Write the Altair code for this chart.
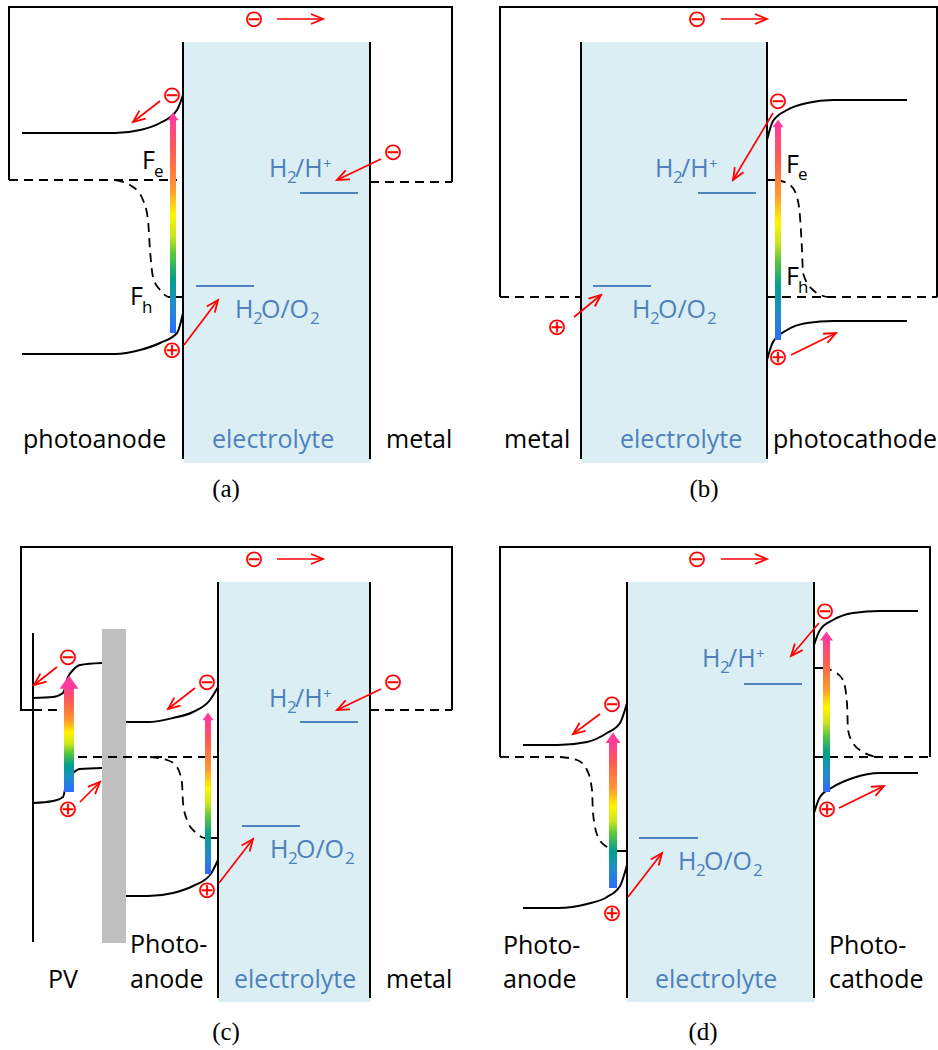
import altair as alt
import pandas as pd

W, H = 938, 1050

# ---------------- diagram geometry (pixel units) ----------------
ELECTROLYTE = [(184, 42, 371, 463), (581, 42, 768, 463), (218, 582, 371, 1002), (627, 582, 815, 1002)]
SPACER = [(102, 629, 126, 943)]

SOLID_STRAIGHT = [
    # (a)
    [(9, 180), (9, 7), (452, 7), (452, 182)],
    [(183, 42), (183, 459)], [(370, 42), (370, 459)],
    [(168, 297), (183, 297)],
    # (b)
    [(500, 297), (500, 7), (937, 7), (937, 297)],
    [(581, 42), (581, 459)], [(767, 42), (767, 459)],
    [(767, 180), (777, 180)],
    # (c)
    [(33, 710), (21, 710), (21, 547), (452, 547), (452, 710)],
    [(33, 633), (33, 942)],
    [(218, 582), (218, 998)], [(370, 582), (370, 998)],
    [(204, 838), (218, 838)],
    # (d)
    [(500, 757), (500, 547), (930, 547), (930, 757)],
    [(627, 582), (627, 998)], [(814, 582), (814, 998)],
    [(617, 851), (627, 851)], [(814, 668), (823, 668)],
]

SOLID_CURVES = [
    # (a) photoanode bands
    [(22, 133), (115, 133), (140, 130), (160, 123), (177, 110), (183, 95)],
    [(22, 354), (115, 354), (140, 350), (160, 343), (177, 333), (183, 313)],
    # (b) photocathode bands
    [(767, 140), (773, 121), (787, 110), (807, 103), (833, 100), (907, 100)],
    [(767, 360), (773, 342), (787, 330), (807, 323), (833, 321), (907, 321)],
    # (c) PV bands
    [(33, 698), (53, 697), (63, 693), (68, 677), (73, 670), (80, 665), (102, 663)],
    [(33, 803), (53, 801), (63, 797), (67, 780), (73, 773), (80, 769), (102, 768)],
    # (c) photoanode bands
    [(126, 722), (148, 722), (173, 718), (193, 712), (210, 700), (218, 687)],
    [(126, 896), (148, 896), (173, 893), (193, 886), (210, 875), (218, 860)],
    # (d) photoanode bands
    [(523, 745), (558, 745), (587, 742), (607, 733), (620, 723), (627, 703)],
    [(523, 908), (558, 908), (587, 904), (607, 897), (620, 886), (627, 865)],
    # (d) photocathode bands
    [(814, 645), (820, 630), (833, 620), (853, 613), (880, 611), (918, 611)],
    [(814, 813), (820, 797), (833, 787), (853, 778), (880, 773), (918, 773)],
]

DASHED_STRAIGHT = [
    [(9, 180), (177, 180)], [(370, 182), (452, 182)],
    [(500, 297), (581, 297)], [(767, 297), (937, 297)],
    [(33, 710), (57, 710)], [(78, 757), (218, 757)], [(370, 710), (452, 710)],
    [(500, 757), (560, 757)], [(814, 757), (930, 757)],
]

DASHED_CURVES = [
    [(115, 180), (133, 187), (143, 200), (148, 220), (150, 250), (153, 277), (160, 290), (168, 297)],
    [(777, 180), (790, 185), (797, 197), (800, 217), (802, 250), (803, 273), (813, 290), (827, 297)],
    [(150, 757), (167, 760), (177, 767), (182, 783), (183, 803), (187, 820), (195, 832), (204, 838)],
    [(560, 757), (577, 760), (587, 770), (592, 790), (593, 813), (598, 837), (607, 847), (617, 851)],
    [(823, 668), (835, 672), (843, 680), (847, 703), (848, 730), (853, 743), (863, 752), (877, 757)],
]

REDOX_LEVELS = [
    (300, 358, 193), (196, 254, 286),
    (698, 756, 193), (593, 651, 286),
    (300, 358, 722), (242, 300, 826),
    (744, 802, 684), (639, 698, 838),
]

RED_ARROWS = [
    (277, 19, 323, 19), (160, 101, 133, 122), (184, 345, 218, 300), (381, 159, 337, 180),
    (721, 19, 767, 19), (773, 113, 733, 180), (574, 317, 601, 295), (791, 355, 836, 333),
    (277, 559, 323, 559), (57, 667, 34, 685), (80, 802, 100, 782), (195, 688, 168, 709),
    (219, 883, 253, 839), (381, 689, 337, 710),
    (721, 559, 767, 559), (600, 714, 573, 734), (628, 897, 662, 853), (819, 623, 791, 656),
    (839, 808, 884, 786),
]

# left, right, bottom, top, head half width
RAINBOWS = [
    (170, 176, 333, 118, 5.5),
    (775, 781, 340, 125, 5.5),
    (205, 211, 874, 718, 5.5),
    (64, 74, 792, 685, 9.5),
    (609, 617, 888, 740, 7.5),
    (823, 830, 792, 638, 6.5),
]

CHARGES = [
    (254, 20, "⊖"), (172, 96, "⊖"), (172, 351, "⊕"), (393, 153, "⊖"),
    (697, 20, "⊖"), (778, 102, "⊖"), (778, 358, "⊕"), (557, 328, "⊕"),
    (254, 560, "⊖"), (68, 658, "⊖"), (68, 810, "⊕"), (207, 683, "⊖"), (207, 891, "⊕"), (393, 683, "⊖"),
    (697, 560, "⊖"), (612, 705, "⊖"), (612, 914, "⊕"), (825, 612, "⊖"), (827, 810, "⊕"),
]

BLACK_LABELS = [
    (23, 448, "photoanode"), (386, 448, "metal"),
    (504, 448, "metal"), (773, 448, "photocathode"),
    (48, 988, "PV"), (130, 953, "Photo-"), (130, 988, "anode"), (386, 988, "metal"),
    (503, 954, "Photo-"), (503, 988, "anode"), (829, 954, "Photo-"), (829, 988, "cathode"),
    (142, 169, "F"), (130, 305, "F"), (786, 173, "F"), (786, 285, "F"),
]
BLACK_SUBS = [(154, 177, "e"), (142, 313, "h"), (798, 180, "e"), (798, 293, "h")]

BLUE_LABELS = [
    (212, 448, "electrolyte"), (620, 448, "electrolyte"), (234, 988, "electrolyte"), (655, 988, "electrolyte"),
    (269, 177, "H"), (295, 177, "/H"), (235, 318, "H"), (261, 318, "O/O"),
    (655, 177, "H"), (681, 177, "/H"), (632, 318, "H"), (658, 318, "O/O"),
    (269, 707, "H"), (295, 707, "/H"), (270, 858, "H"), (296, 858, "O/O"),
    (702, 667, "H"), (728, 667, "/H"), (678, 870, "H"), (704, 870, "O/O"),
]
BLUE_SUBS = [
    (287, 183, "2"), (253, 324, "2"), (310, 324, "2"),
    (673, 183, "2"), (650, 324, "2"), (707, 324, "2"),
    (287, 713, "2"), (288, 864, "2"), (345, 864, "2"),
    (720, 673, "2"), (696, 876, "2"), (753, 876, "2"),
]
BLUE_SUPS = [(323, 169, "+"), (709, 169, "+"), (323, 699, "+"), (756, 659, "+")]
CAPTIONS = [(226, 497, "(a)"), (704, 497, "(b)"), (226, 1040, "(c)"), (703, 1040, "(d)")]

BLUE = "#4F81BD"
RED = "#FF0000"
RAINBOW_STOPS = [
    (0.00, "#2F6BFF"), (0.14, "#1E8FC4"), (0.25, "#00A08C"), (0.37, "#5CC83A"),
    (0.45, "#C8E61E"), (0.55, "#FFF500"), (0.67, "#FF9A2E"), (0.85, "#FF5A55"), (1.00, "#FF3C9C"),
]

# ---------------- helpers ----------------
XS = alt.Scale(domain=[0, W], nice=False, zero=False)
YS = alt.Scale(domain=[0, H], nice=False, zero=False, reverse=True)


def X(f="x"):
    return alt.X(f"{f}:Q", scale=XS, axis=None)


def Y(f="y"):
    return alt.Y(f"{f}:Q", scale=YS, axis=None)


def paths_df(paths):
    rows = []
    for pid, pts in enumerate(paths):
        for i, (x, y) in enumerate(pts):
            rows.append({"pid": pid, "i": i, "x": x, "y": y})
    return pd.DataFrame(rows)


def line_layer(paths, color="black", width=2.0, dash=None, interp="linear"):
    kw = dict(color=color, strokeWidth=width, interpolate=interp, strokeCap="butt")
    if dash:
        kw["strokeDash"] = dash
    return alt.Chart(paths_df(paths)).mark_line(**kw).encode(
        x=X(), y=Y(), detail="pid:N", order="i:Q"
    )


# ---------------- layers ----------------
rects = pd.DataFrame(ELECTROLYTE, columns=["x", "y", "x2", "y2"])
electrolyte = alt.Chart(rects).mark_rect(color="#DAEEF3").encode(
    x=X(), y=Y(), x2="x2:Q", y2="y2:Q")

spacer = alt.Chart(pd.DataFrame(SPACER, columns=["x", "y", "x2", "y2"])).mark_rect(
    color="#BFBFBF").encode(x=X(), y=Y(), x2="x2:Q", y2="y2:Q")

levels = alt.Chart(pd.DataFrame(REDOX_LEVELS, columns=["x", "x2", "y"])).mark_rule(
    color=BLUE, strokeWidth=2).encode(x=X(), x2="x2:Q", y=Y())

solid = line_layer(SOLID_STRAIGHT)
curves = line_layer(SOLID_CURVES, interp="monotone")
dashed = line_layer(DASHED_STRAIGHT, width=1.8, dash=[9, 6])
dashed_c = line_layer(DASHED_CURVES, width=1.8, dash=[9, 6], interp="monotone")

rb = pd.DataFrame(RAINBOWS, columns=["x", "x2", "y", "y2", "hw"])
rb["xc"] = (rb["x"] + rb["x2"]) / 2
rb["sz"] = (2 * rb["hw"]) ** 2
grad = alt.LinearGradient(
    gradient="linear",
    stops=[alt.GradientStop(offset=o, color=c) for o, c in RAINBOW_STOPS],
    x1=0, y1=1, x2=0, y2=0,
)
rainbow = alt.Chart(rb).mark_rect(fill=grad).encode(x=X(), x2="x2:Q", y=Y(), y2="y2:Q")
rainbow_head = alt.Chart(rb).mark_point(
    shape="M-1,0.4L0,-1L1,0.4Z", filled=True, fill="#FF3C9C", opacity=1, strokeWidth=0
).encode(x=X("xc"), y=Y("y2"), size=alt.Size("sz:Q", scale=None, legend=None))

arr = pd.DataFrame(RED_ARROWS, columns=["x", "y", "x2", "y2"])
arrow_shafts = alt.Chart(arr).mark_rule(color=RED, strokeWidth=1.7).encode(
    x=X(), y=Y(), x2="x2:Q", y2="y2:Q")
arrow_heads = alt.Chart(arr).transform_calculate(
    ang="(atan2(datum.y2 - datum.y, datum.x2 - datum.x) * 180 / PI + 360) % 360"
).mark_point(
    shape="M-1,-0.42L0,0L-1,0.42", filled=False, color=RED, strokeWidth=1.8, size=576, opacity=1
).encode(x=X("x2"), y=Y("y2"), angle=alt.Angle("ang:Q", scale=None))

charges = alt.Chart(pd.DataFrame(CHARGES, columns=["x", "y", "t"])).mark_text(
    font="DejaVu Sans", fontSize=24, color=RED, align="center", baseline="middle"
).encode(x=X(), y=Y(), text="t:N")


def text_layer(rows, size, color, font="Open Sans", align="left"):
    return alt.Chart(pd.DataFrame(rows, columns=["x", "y", "t"])).mark_text(
        font=font, fontSize=size, color=color, align=align, baseline="alphabetic"
    ).encode(x=X(), y=Y(), text="t:N")


black_lab = text_layer(BLACK_LABELS, 25, "black")
black_sub = text_layer(BLACK_SUBS, 17, "black")
blue_lab = text_layer(BLUE_LABELS, 25, BLUE)
blue_sub = text_layer(BLUE_SUBS, 17, BLUE)
blue_sup = text_layer(BLUE_SUPS, 15, BLUE)
captions = text_layer(CAPTIONS, 25, "black", font="Liberation Serif", align="center")

chart = alt.layer(
    electrolyte, spacer, levels, dashed, dashed_c, solid, curves,
    rainbow, rainbow_head, arrow_shafts, arrow_heads, charges,
    black_lab, black_sub, blue_lab, blue_sub, blue_sup, captions,
).properties(
    width=W, height=H, padding=0, autosize=alt.AutoSizeParams(type="none"), background="white"
).configure_view(stroke=None)

chart.save("out.html", embed_options={"renderer": "svg", "actions": False})
